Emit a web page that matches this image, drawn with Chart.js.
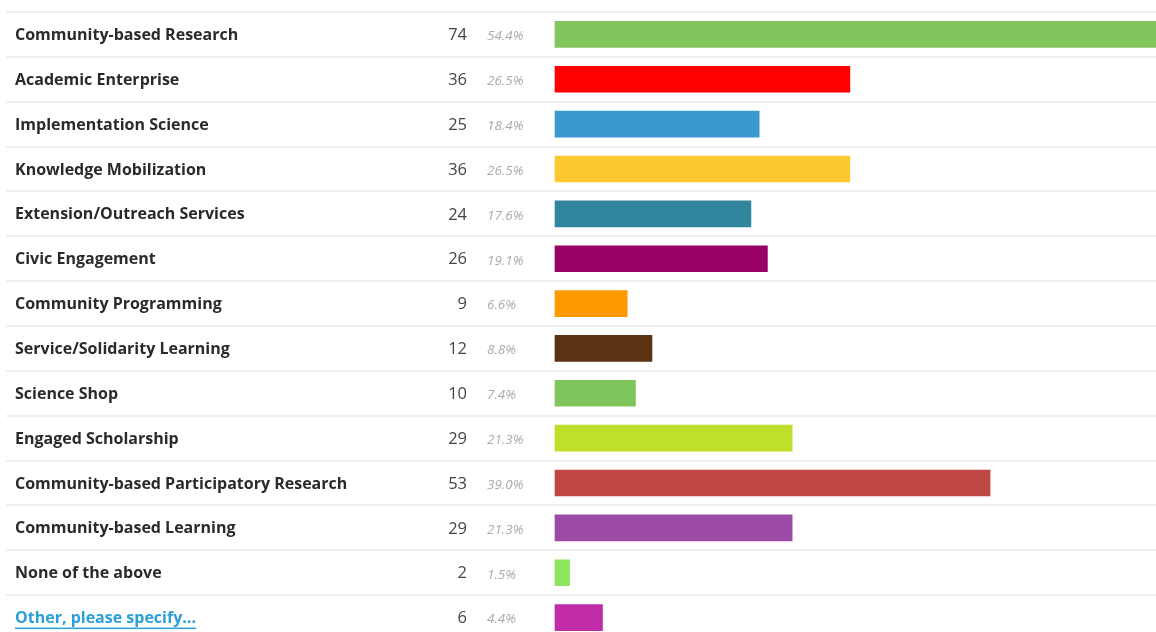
<!DOCTYPE html>
<html>
<head>
<meta charset="utf-8">
<script src="https://cdn.jsdelivr.net/npm/chart.js@4"></script>
<style>
  html, body { margin: 0; padding: 0; background: #fff; overflow: hidden; }
  #wrap { width: 1156px; height: 648px; }
</style>
</head>
<body>
<div id="wrap"><canvas id="surveyChart"></canvas></div>
<script>
const categories = [
  'Community-based Research',
  'Academic Enterprise',
  'Implementation Science',
  'Knowledge Mobilization',
  'Extension/Outreach Services',
  'Civic Engagement',
  'Community Programming',
  'Service/Solidarity Learning',
  'Science Shop',
  'Engaged Scholarship',
  'Community-based Participatory Research',
  'Community-based Learning',
  'None of the above',
  'Other, please specify...'
];
const counts = [74, 36, 25, 36, 24, 26, 9, 12, 10, 29, 53, 29, 2, 6];
const percents = ['54.4%', '26.5%', '18.4%', '26.5%', '17.6%', '19.1%', '6.6%', '8.8%', '7.4%', '21.3%', '39.0%', '21.3%', '1.5%', '4.4%'];
const barColors = ['#83c55d', '#ff0000', '#3a9ad0', '#fec92f', '#31859c', '#990063', '#ff9900',
  '#5a3214', '#80c55b', '#bfe02b', '#c04844', '#9b4aa6', '#8ee45c', '#c02ca8'];

// draws row separators, labels, counts and percentages on the left
const rowText = {
  id: 'rowText',
  beforeDatasetsDraw(chart) {
    const ctx = chart.ctx;
    const rowH = (chart.chartArea.bottom - chart.chartArea.top) / categories.length;
    ctx.save();
    ctx.fillStyle = '#f0f0f0';
    categories.forEach((c, i) => {
      const top = Math.round(chart.chartArea.top + i * rowH);
      ctx.fillRect(6, top - 1, chart.width - 6, 2);
    });
    ctx.restore();
  },
  afterDatasetsDraw(chart) {
    const ctx = chart.ctx;
    const y = chart.scales.y;
    ctx.save();
    ctx.textBaseline = 'middle';
    categories.forEach((c, i) => {
      const cy = y.getPixelForValue(i) + 1;
      const last = i === categories.length - 1;
      ctx.font = '700 16px "Open Sans"';
      ctx.textAlign = 'left';
      ctx.fillStyle = last ? '#2a9fd8' : '#2a2a2a';
      ctx.fillText(c, 15, cy);
      if (last) {
        const w = ctx.measureText(c).width;
        ctx.fillRect(15, cy + 9, w, 1.5);
      }
      ctx.font = '16.5px "Open Sans"';
      ctx.textAlign = 'right';
      ctx.fillStyle = '#444444';
      ctx.fillText(String(counts[i]), 467, cy);
      ctx.font = 'italic 13.5px "Open Sans"';
      ctx.textAlign = 'left';
      ctx.fillStyle = '#aaaaaa';
      ctx.fillText(percents[i], 487, cy + 1);
    });
    ctx.restore();
  }
};

const ctx = document.getElementById('surveyChart').getContext('2d');
new Chart(ctx, {
  type: 'bar',
  data: {
    labels: categories,
    datasets: [{
      data: counts,
      backgroundColor: barColors,
      borderColor: 'rgba(255,255,255,0.3)',
      borderWidth: 1,
      borderSkipped: false,
      barThickness: 28
    }]
  },
  options: {
    indexAxis: 'y',
    responsive: true,
    maintainAspectRatio: false,
    animation: false,
    layout: { padding: { left: 554, right: 0, top: 12, bottom: 8 } },
    plugins: { legend: { display: false }, tooltip: { enabled: false } },
    scales: {
      x: { display: false, min: 0, max: 73 },
      y: { display: false }
    }
  },
  plugins: [rowText]
});
</script>
</body>
</html>
